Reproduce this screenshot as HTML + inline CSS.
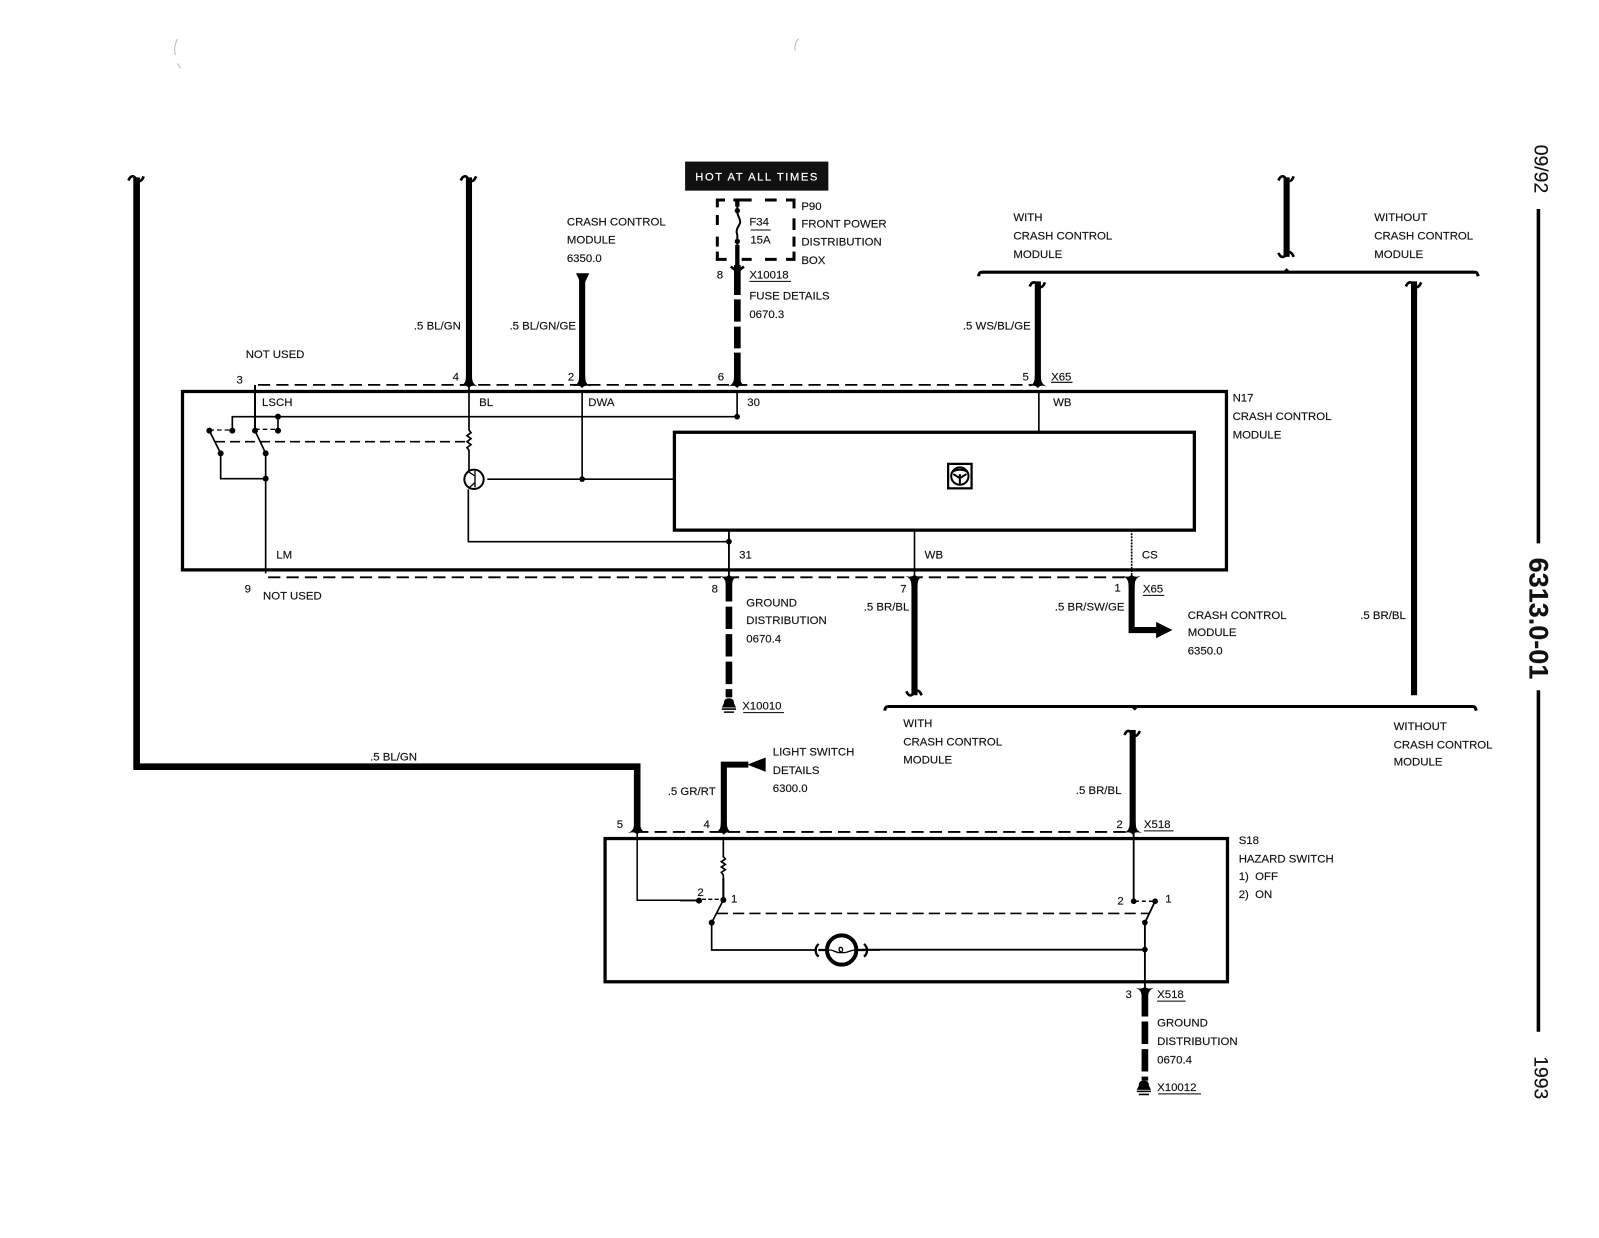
<!DOCTYPE html>
<html><head><meta charset="utf-8">
<style>
html,body{margin:0;padding:0;background:#fff}
svg{display:block}
text{font-family:"Liberation Sans",sans-serif;font-size:11.2px;fill:#111;stroke:#111;stroke-width:.15px}
.r{text-anchor:end}
</style></head><body>
<svg width="1599" height="1238" viewBox="0 0 1599 1238" xmlns="http://www.w3.org/2000/svg">
<defs>
<path id="f" d="M-9 2C-4 0-3-3-3-8L3-8C3-3 4 0 9 2C4 1 1.500 1 0 4C-1.500 1-4 1-9 2Z" fill="#000"/>
<path id="b" d="M-8 2C-6-3-3-3-1 0C1 3 4 5 7-2" fill="none" stroke="#000" stroke-width="2.600"/>
<circle id="d" r="2.800" fill="#000"/>
</defs>
<g transform="scale(1.0195)">
<!-- scan specks -->
<path d="M174 38C171 44 171 50 172 54M174 62L177 67M783 38C780 42 779 46 780 50" fill="none" stroke="#bbb" stroke-width="1"/>

<g fill="none" stroke="#000">
<!-- thick wires -->
<path d="M134 174V752H625V812" stroke-width="6.500"/>
<path d="M460 174V376" stroke-width="6"/>
<path d="M571 272V376" stroke-width="6"/>
<path d="M1018 276V374" stroke-width="6"/>
<path d="M1262 174V252" stroke-width="6"/>
<path d="M1387 276V682" stroke-width="6"/>
<path d="M897 568V682" stroke-width="6"/>
<path d="M1111 716V812" stroke-width="6"/>
<path d="M1110 568V618H1136" stroke-width="6"/>
<path d="M715 568V684" stroke-width="6.500" stroke-dasharray="22 5"/>
<path d="M710 812V750H734" stroke-width="6"/>
<path d="M1123 975V1060" stroke-width="6.500" stroke-dasharray="22 5"/>
<!-- brackets -->
<path d="M960 271C960 268 961 267 964 267H1446C1449 267 1449 268 1450 271" stroke-width="3"/>
<path d="M868 697C868 694 869 693 872 693H1444C1447 693 1447 694 1448 697" stroke-width="3"/>
<!-- boxes -->
<rect x="179" y="384" width="1024" height="175" stroke-width="3.200"/>
<rect x="661.500" y="424" width="510" height="96" stroke-width="3.200"/>
<rect x="593.500" y="822.500" width="610.500" height="140.500" stroke-width="3.200"/>
<!-- dashed connector lines -->
<path d="M253 377.500H1012" stroke-width="1.800" stroke-dasharray="12 6"/>
<path d="M263 566.300H1105" stroke-width="1.800" stroke-dasharray="12 6"/>
<path d="M624 816H1105" stroke-width="1.800" stroke-dasharray="12 6"/>
<!-- underlines -->
<path d="M735 276H776M1031 375H1052M1121 584H1142M729 699H769M1122 815H1151M1135 982H1163M1136 1073H1178" stroke-width="1"/>
<!-- interior wires N17 -->
<path d="M723 384V408.700H250" stroke-width="1.600"/>
<path d="M478 470H661" stroke-width="1.600"/>
<path d="M571 384V470" stroke-width="1.600"/>
<path d="M1019 384V424" stroke-width="1.600"/>
<path d="M715 520V566" stroke-width="1.800"/>
<path d="M897 520V566" stroke-width="1.600"/>
<path d="M1110 520V566" stroke-width="1.600" stroke-dasharray="2 1"/>
<!-- hazard interior -->
<path d="M625 816V883H684" stroke-width="1.500"/>
<path d="M1112 816V884" stroke-width="1.800"/>
<path d="M1113 884H1133" stroke-width="1.500" stroke-dasharray="4 3"/>
<path d="M1133 884L1123 905V975" stroke-width="1.800"/>
<path d="M845 931.500H1123" stroke-width="1.800"/>
<path d="M703 896H1128" stroke-width="1.600" stroke-dasharray="11 5"/>
<!-- module icon -->
<rect x="930" y="455" width="23" height="24" stroke-width="2.200"/>
<circle cx="941.500" cy="467" r="8.500" stroke-width="2"/>
<path d="M934 463C938 460 945 460 949 463M941.500 465V476" stroke-width="2"/>
<path d="M935 465L941.500 469L948 465" stroke-width="2"/>
<!-- ground symbols -->
<path d="M708 695.500H722M710 698.500H720" stroke-width="1.500"/>
<path d="M1115 1070.500H1129M1117 1073.500H1127" stroke-width="1.500"/>
</g>

<path d="M710 690C710 686 712 685 715 685C718 685 720 686 720 690L722 694H708Z"/>
<path d="M1117 1065C1117 1061 1119 1060 1122 1060C1125 1060 1127 1061 1127 1065L1129 1069H1115Z"/>
<path d="M565 268H578L571.500 282Z"/>
<path d="M1134 610L1150 618L1134 626Z"/>
<path d="M751 743V757L733 750Z"/>

<!-- connector flares -->
<use href="#f" x="460" y="377"/><use href="#f" x="571" y="377"/><use href="#f" x="723" y="377"/><use href="#f" x="1018" y="377"/>
<use href="#f" x="625" y="815"/><use href="#f" x="710" y="815"/><use href="#f" x="1111" y="815"/>
<use href="#f" transform="translate(715 567) scale(1 -1)"/><use href="#f" transform="translate(897 567) scale(1 -1)"/><use href="#f" transform="translate(1110 567) scale(1 -1)"/>
<use href="#f" transform="translate(1123 971) scale(1 -1)"/>

<!-- wire break marks -->
<use href="#b" x="134" y="175"/><use href="#b" x="460" y="175"/><use href="#b" x="1262" y="175"/><use href="#b" x="1018" y="279"/><use href="#b" x="1387" y="279"/><use href="#b" x="1111" y="719"/>
<use href="#b" transform="translate(1262 250) scale(1 -1)"/><use href="#b" transform="translate(897 680) scale(1 -1)"/>
<path d="M1258 267L1262 263L1266 267ZM1109 693L1113 697L1117 693Z"/>

<!-- dots -->
<use href="#d" x="723" y="408.700"/><use href="#d" x="571" y="470"/><use href="#d" x="715" y="531.300"/>
<use href="#d" x="1112" y="884"/><use href="#d" x="1133" y="884"/><use href="#d" x="1123" y="905"/><use href="#d" x="1123" y="931.500"/>

<!-- banner -->
<rect x="672" y="158.500" width="140.500" height="28.500" fill="#111"/>
<text x="682" y="177" style="fill:#fff;stroke:#fff;stroke-width:.2px;font-size:11px;letter-spacing:1.550px">HOT AT ALL TIMES</text>

<!-- labels -->
<text x="452" y="323" class="r">.5 BL/GN</text>
<text x="565" y="323" class="r">.5 BL/GN/GE</text>
<text x="556" y="221">CRASH CONTROL</text><text x="556" y="239">MODULE</text><text x="556" y="257">6350.0</text>
<text x="786" y="206">P90</text><text x="786" y="223">FRONT POWER</text><text x="786" y="241">DISTRIBUTION</text><text x="786" y="259">BOX</text>
<text x="735" y="221">F34</text><text x="736" y="239">15A</text>
<text x="703" y="273">8</text><text x="735" y="273">X10018</text><text x="735" y="294">FUSE DETAILS</text><text x="735" y="312">0670.3</text>
<text x="994" y="217">WITH</text><text x="994" y="235">CRASH CONTROL</text><text x="994" y="253">MODULE</text>
<text x="1348" y="217">WITHOUT</text><text x="1348" y="235">CRASH CONTROL</text><text x="1348" y="253">MODULE</text>
<text x="1011" y="323" class="r">.5 WS/BL/GE</text>
<text x="241" y="351">NOT USED</text>
<text x="232" y="376">3</text><text x="444" y="373">4</text><text x="557" y="373">2</text><text x="704" y="373">6</text><text x="1003" y="373">5</text><text x="1031" y="373">X65</text>
<text x="257" y="398">LSCH</text><text x="470" y="398">BL</text><text x="577" y="398">DWA</text><text x="733" y="398">30</text><text x="1033" y="398">WB</text>
<text x="1209" y="394">N17</text><text x="1209" y="412">CRASH CONTROL</text><text x="1209" y="430">MODULE</text>
<text x="271" y="548">LM</text><text x="725" y="548">31</text><text x="907" y="548">WB</text><text x="1120" y="548">CS</text>
<text x="240" y="581">9</text><text x="258" y="588">NOT USED</text><text x="698" y="581">8</text><text x="883" y="581">7</text><text x="1093" y="580">1</text><text x="1121" y="581">X65</text>
<text x="732" y="595">GROUND</text><text x="732" y="612">DISTRIBUTION</text><text x="732" y="630">0670.4</text>
<text x="892" y="599" class="r">.5 BR/BL</text><text x="1103" y="599" class="r">.5 BR/SW/GE</text>
<text x="1165" y="607">CRASH CONTROL</text><text x="1165" y="624">MODULE</text><text x="1165" y="642">6350.0</text>
<text x="1379" y="607" class="r">.5 BR/BL</text>
<text x="728" y="696">X10010</text>
<text x="886" y="713">WITH</text><text x="886" y="731">CRASH CONTROL</text><text x="886" y="749">MODULE</text>
<text x="1367" y="716">WITHOUT</text><text x="1367" y="734">CRASH CONTROL</text><text x="1367" y="751">MODULE</text>
<text x="363" y="746">.5 BL/GN</text>
<text x="758" y="741">LIGHT SWITCH</text><text x="758" y="759">DETAILS</text><text x="758" y="777">6300.0</text>
<text x="702" y="780" class="r">.5 GR/RT</text><text x="1100" y="779" class="r">.5 BR/BL</text>
<text x="605" y="812">5</text><text x="690" y="812">4</text><text x="1095" y="812">2</text><text x="1122" y="812">X518</text>
<text x="1215" y="828">S18</text><text x="1215" y="846">HAZARD SWITCH</text><text x="1215" y="863">1)&#160;&#160;OFF</text><text x="1215" y="881">2)&#160;&#160;ON</text>
<text x="684" y="879">2</text><text x="717" y="885">1</text><text x="1096" y="887">2</text><text x="1143" y="885">1</text>
<text x="1104" y="979">3</text><text x="1135" y="979">X518</text>
<text x="1135" y="1007">GROUND</text><text x="1135" y="1025">DISTRIBUTION</text><text x="1135" y="1043">0670.4</text><text x="1135" y="1070">X10012</text>

<!-- right margin -->
<path d="M1509 205V533M1509 677V1012" stroke="#000" stroke-width="3.500" fill="none"/>
<text transform="translate(1505 142) rotate(90)" style="font-size:19px">09/92</text>
<text transform="translate(1500 547) rotate(90)" style="font-size:26.500px;font-weight:bold">6313.0-01</text>
<text transform="translate(1505 1036) rotate(90)" style="font-size:19px">1993</text>
</g>

<!-- switch/transistor detail (3x crop units at 150,340) -->
<g transform="translate(150 340) scale(.33333)" fill="none" stroke="#000" stroke-width="5">
<path d="M315 135V272" stroke-width="6"/>
<path d="M247 272V230H384V272"/>
<path d="M178 270H247M315 268H384" stroke-width="4" stroke-dasharray="14 9"/>
<path d="M178 272L212 340V416H347" stroke-width="5"/>
<path d="M315 272L347 340V700" stroke-width="5"/>
<path d="M195 305H950" stroke-width="5" stroke-dasharray="30 15"/>
<path d="M957 135V270l6 8-12 9 12 9-12 9 12 9-12 9 6 8V392"/>
<circle cx="972" cy="418" r="29" stroke-width="6"/>
<path d="M975 392V442M975 408L955 395M975 428L955 445" stroke-width="4"/>
<path d="M955 448V605H1743"/>
<g fill="#000" stroke="none"><circle cx="178" cy="272" r="9"/><circle cx="247" cy="272" r="9"/><circle cx="315" cy="272" r="9"/><circle cx="384" cy="272" r="9"/><circle cx="384" cy="230" r="9"/><circle cx="212" cy="340" r="9"/><circle cx="347" cy="340" r="9"/><circle cx="347" cy="416" r="9"/></g>
</g>

<!-- fuse detail (3x crop units at 660,150) -->
<g transform="translate(660 150) scale(.33333)" fill="none" stroke="#000">
<path d="M172 172V150H195M220 150H275M315 150H350M378 150H402V175M402 205V240M402 260V290M402 305V328H378M350 328H315M275 328H245M200 328H172V305M172 290V260M172 225V195" stroke-width="9"/>
<path d="M232 150V185C232 200 244 208 240 220C234 232 226 240 232 255V350" stroke-width="6"/>
<path d="M232 150V170M232 285V345" stroke-width="13"/>
<path d="M232 345V435M232 448V515M232 530V595M232 608V700" stroke-width="20"/>
<path d="M272 240H332" stroke-width="3"/>
<path d="M212 350C222 356 228 362 232 370C236 362 242 356 252 350" stroke-width="8"/>
<circle cx="232" cy="182" r="8" fill="#000" stroke="none"/><circle cx="232" cy="274" r="8" fill="#000" stroke="none"/>
</g>

<!-- hazard switch detail (3x crop units at 680,840) -->
<g transform="translate(680 840) scale(.33333)" fill="none" stroke="#000" stroke-width="5">
<path d="M130 0V50l6 7-12 8 12 8-12 8 12 8-12 8 6 8V180" stroke-width="5"/>
<path d="M130 115V180" stroke-width="6"/>
<path d="M0 182H57" stroke-width="4"/>
<path d="M66 178H122" stroke-width="4" stroke-dasharray="12 7"/>
<path d="M130 180L95 248V330H405"/>
<circle cx="485" cy="330" r="44" stroke-width="12"/>
<path d="M415 330H450C462 330 465 338 480 338C490 338 490 322 482 322C474 322 476 338 490 338C505 338 510 330 525 330H555" stroke-width="4"/>
<path d="M416 312C404 322 404 340 416 350M552 312C564 322 564 340 552 350" stroke-width="7"/>
<path d="M415 330H438M532 330H555" stroke-width="7"/>
<path d="M555 330H600"/>
<g fill="#000" stroke="none"><circle cx="57" cy="182" r="9"/><circle cx="130" cy="180" r="9"/><circle cx="95" cy="248" r="9"/></g>
</g>
</svg>
</body></html>
